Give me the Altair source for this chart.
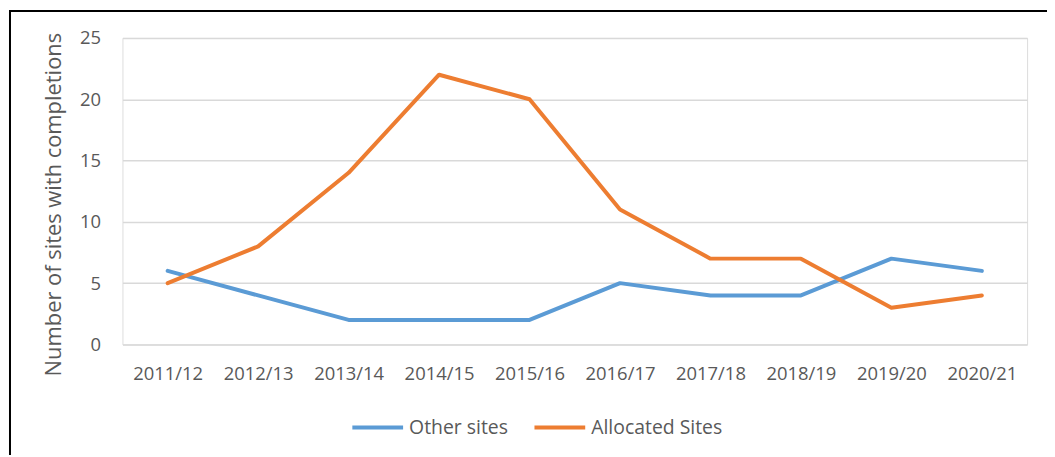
import altair as alt
import pandas as pd

years = ["2011/12", "2012/13", "2013/14", "2014/15", "2015/16",
         "2016/17", "2017/18", "2018/19", "2019/20", "2020/21"]
other_sites = [6, 4, 2, 2, 2, 5, 4, 4, 7, 6]
allocated_sites = [5, 8, 14, 22, 20, 11, 7, 7, 3, 4]
series_names = ["Other sites", "Allocated Sites"]
series_colors = ["#5B9BD5", "#ED7D31"]

rows = []
for y, v in zip(years, other_sites):
    rows.append({"year": y, "series": series_names[0], "value": v})
for y, v in zip(years, allocated_sites):
    rows.append({"year": y, "series": series_names[1], "value": v})
df = pd.DataFrame(rows)

FONT = "Open Sans"
GREY = "#595959"

lines = alt.Chart(df).mark_line(strokeWidth=4, strokeJoin="round", strokeCap="round").encode(
    x=alt.X("year:N", sort=years, title=None,
            scale=alt.Scale(paddingInner=1, paddingOuter=0.5),
            axis=alt.Axis(labelAngle=0, labelFontSize=18.5, labelColor=GREY, labelFont=FONT,
                          domain=False, ticks=False, labelPadding=20)),
    y=alt.Y("value:Q", title="Number of sites with completions",
            scale=alt.Scale(domain=[0, 25]),
            axis=alt.Axis(values=[0, 5, 10, 15, 20, 25], labelFontSize=18.5, labelColor=GREY,
                          labelFont=FONT, domain=False, ticks=False, labelPadding=22,
                          gridColor="#D9D9D9", gridWidth=1.5,
                          titleFontSize=22, titleFont=FONT, titleColor=GREY,
                          titleFontWeight="normal", titlePadding=14, titleY=167)),
    color=alt.Color("series:N", sort=series_names,
                    scale=alt.Scale(domain=series_names, range=series_colors),
                    legend=alt.Legend(title=None, orient="none", direction="horizontal",
                                      legendX=229, legendY=364, symbolType="stroke",
                                      symbolSize=2600, symbolStrokeWidth=4,
                                      labelFontSize=19.5, labelFont=FONT, labelColor=GREY,
                                      labelOffset=4, columnPadding=18)),
)

border = alt.Chart(pd.DataFrame({"a": [0]})).mark_rect(
    fill=None, stroke="black", strokeWidth=2, clip=False
).encode(
    x=alt.value(-113), x2=alt.value(1200),
    y=alt.value(-27), y2=alt.value(600),
)

chart = alt.layer(border, lines).properties(
    width=909, height=308,
    autosize=alt.AutoSizeParams(type="none"),
    padding={"left": 115, "top": 29, "right": 20, "bottom": 110},
).configure_view(stroke=None).configure(background="white")

chart.save("out.html", embed_options={"renderer": "svg", "actions": False})
